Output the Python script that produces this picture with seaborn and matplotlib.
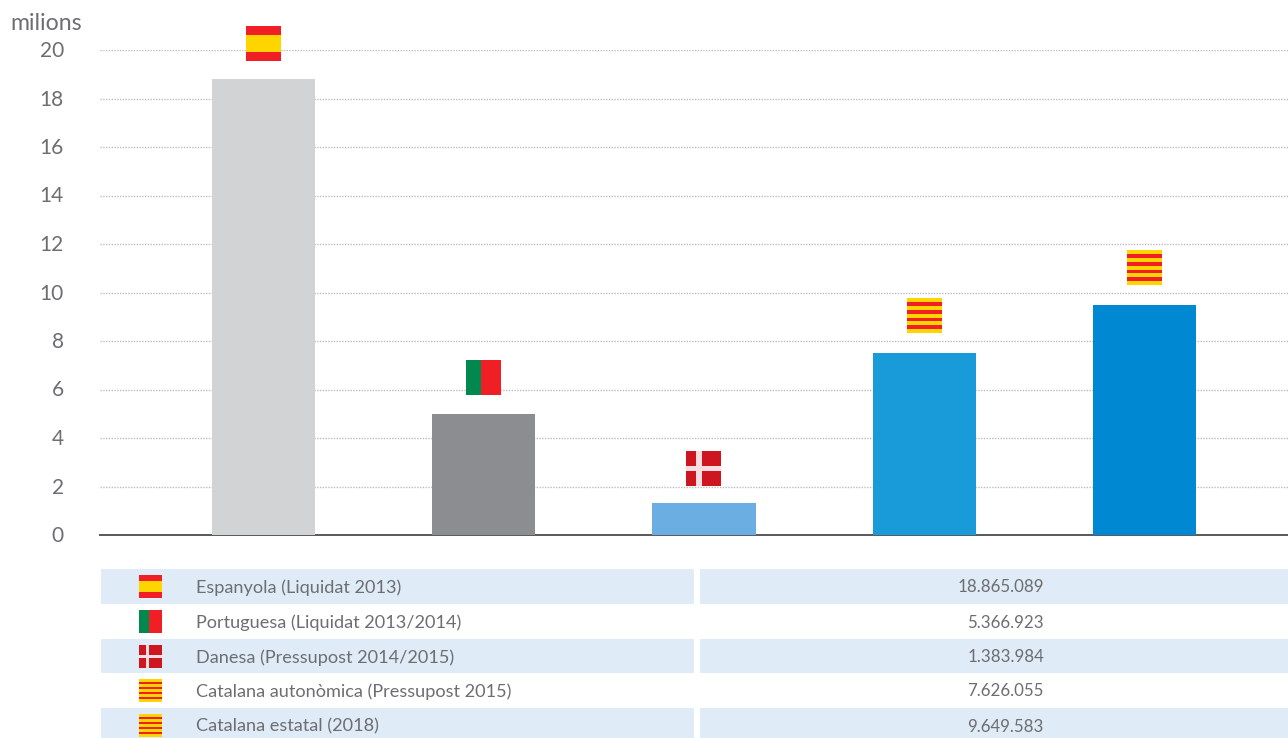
import pandas as pd
import matplotlib.pyplot as plt
from matplotlib.patches import Rectangle
from matplotlib.transforms import ScaledTranslation
import seaborn as sns

# Values
categories = ["Espanyola (Liquidat 2013)", "Portuguesa (Liquidat 2013/2014)", "Danesa (Pressupost 2014/2015)",
              "Catalana autonòmica (Pressupost 2015)", "Catalana estatal (2018)"]
bar_values = [18.8, 4.99, 1.32, 7.5, 9.48]
table_values = ["18.865.089", "5.366.923", "1.383.984", "7.626.055", "9.649.583"]
flags = ["es", "pt", "dk", "cat", "cat"]
flag_gaps = [53, 54, 52, 55, 55]
bar_colors = ["#D1D3D4", "#8C8D91", "#6BAFE2", "#1A9BD9", "#0089D2"]
y_ticks = [0, 2, 4, 6, 8, 10, 12, 14, 16, 18, 20]

RED = "#F01F26"
YELLOW = "#FFD500"
TEXT = "#6D6E71"
W, H = 1288, 738

sns.set_style("white")
plt.rcParams['font.family'] = ['Lato', 'DejaVu Sans']

df = pd.DataFrame({"Sistema": categories, "Valor": bar_values})

fig = plt.figure(figsize=(W / 100, H / 100), dpi=100)
ax = fig.add_axes([100 / W, (H - 535) / H, 1188 / W, 485 / H])

sns.barplot(data=df, x="Sistema", y="Valor", hue="Sistema", palette=bar_colors,
            width=0.468, dodge=False, legend=False, saturation=1, linewidth=0, ax=ax, zorder=3)

ax.set_xlim(-0.7423, 4.6516)
ax.set_ylim(0, 20)
ax.set_yticks(y_ticks)
ax.set_xticks([])
ax.set_xlabel("")
ax.set_ylabel("")
ax.grid(axis="y", color="#BDBDBD", linestyle=(0, (1, 1)), linewidth=1, zorder=0)
ax.set_axisbelow(True)
ax.tick_params(axis="y", length=0, pad=26, labelsize=15, labelcolor=TEXT)
# labels sit one pixel above the gridline in the reference
for label in ax.get_yticklabels():
    label.set_transform(label.get_transform() + ScaledTranslation(0, 1 / 100, fig.dpi_scale_trans))
sns.despine(ax=ax, left=True)
ax.spines["bottom"].set_color("#58595B")
ax.spines["bottom"].set_linewidth(1.4)
ax.spines["bottom"].set_zorder(1)

# Overlay in pixel coordinates for the flags and the table underneath
ov = fig.add_axes([0, 0, 1, 1])
ov.set_xlim(0, W)
ov.set_ylim(H, 0)
ov.axis("off")
ov.patch.set_alpha(0)


def draw_flag(x, y, w, kind):
    # x, y is the top left corner in pixels, flags are square
    def r(fx, fy, fw, fh, color):
        ov.add_patch(Rectangle((x + fx * w, y + fy * w), fw * w, fh * w, facecolor=color,
                               edgecolor="none", zorder=5))
    if kind == "es":
        r(0, 0, 1, 1, RED)
        r(0, 0.25, 1, 0.5, YELLOW)
    elif kind == "pt":
        r(0, 0, 1, 1, RED)
        r(0, 0, 0.43, 1, "#00884F")
    elif kind == "dk":
        r(0, 0, 1, 1, "#CE1620")
        r(0.285, 0, 0.145, 1, "#F9DDE0")
        r(0, 0.43, 1, 0.145, "#F9DDE0")
    else:
        r(0, 0, 1, 1, YELLOW)
        for k in range(4):
            r(0, (2 * k + 1) / 9, 1, 1 / 9, RED)


# Flags floating above each bar
for i, (val, kind, gap) in enumerate(zip(bar_values, flags, flag_gaps)):
    px, py = ax.transData.transform((i, val))
    draw_flag(px - 17.5, H - py - gap, 35, kind)

ov.text(46.5, 23, "milions", ha="center", va="center", fontsize=16.7, color=TEXT)

# Table under the chart
row_tops = [569, 604, 639, 673, 708]
row_bottoms = [604, 639, 673, 708, 738]
for i, (name, value, kind) in enumerate(zip(categories, table_values, flags)):
    top, bottom = row_tops[i], row_bottoms[i]
    if i % 2 == 0:
        ov.add_patch(Rectangle((101, top), 593, bottom - top, facecolor="#DFEBF7", edgecolor="none"))
        ov.add_patch(Rectangle((700, top), 588, bottom - top, facecolor="#DFEBF7", edgecolor="none"))
    mid = top + 17.5
    draw_flag(139, mid - 11.5, 23, kind)
    ov.text(196, mid + 1, name, ha="left", va="center", fontsize=13.1, color=TEXT)
    ov.text(1044, mid + 1, value, ha="right", va="center", fontsize=12.2, color=TEXT)

fig.savefig("out.png", dpi=100)
